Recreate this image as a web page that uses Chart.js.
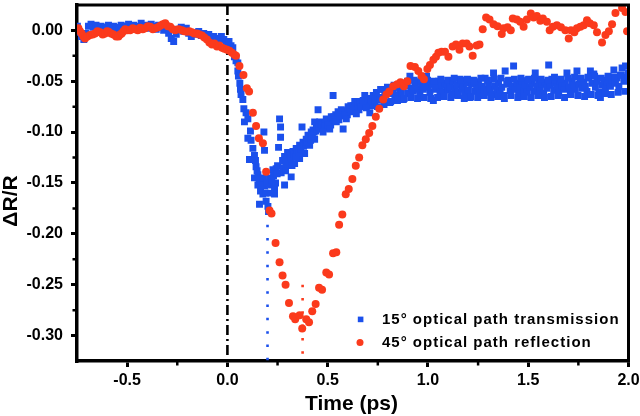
<!DOCTYPE html>
<html><head><meta charset="utf-8">
<script src="https://cdn.jsdelivr.net/npm/chart.js@4/dist/chart.umd.min.js"></script>
<style>html,body{margin:0;padding:0;background:#fff}#wrap{width:640px;height:416px;position:relative}</style>
</head><body><div id="wrap"><canvas id="c" width="640" height="416"></canvas></div>
<script>
const blueLabel = '15° optical path transmission';
const redLabel = '45° optical path reflection';
const xTitle = 'Time (ps)';
const yTitle = 'ΔR/R';
const xTickValues = [-0.5, 0, 0.5, 1.0, 1.5, 2.0];
const yTickValues = [0, -0.05, -0.10, -0.15, -0.20, -0.25, -0.30];
const xRange = [-0.75, 2.0];
const yRange = [-0.325, 0.025];

// blue squares: [time, dR/R]
const bluePre = [[-0.748,0.004],[-0.740,-0.002],[-0.728,-0.006],[-0.716,-0.009],[-0.705,-0.003],[-0.693,0.004],[-0.680,0.006],[-0.668,0.003],[-0.655,0.005],[-0.643,0.002],[-0.630,0.004],[-0.618,0.001],[-0.605,0.003],[-0.593,0.005],[-0.580,0.002],[-0.568,0.004],[-0.555,0.000],[-0.543,0.003],[-0.530,0.005],[-0.518,0.002],[-0.505,0.004],[-0.493,0.006],[-0.480,0.003],[-0.468,0.005],[-0.455,0.002],[-0.443,0.004],[-0.430,0.007],[-0.418,0.003],[-0.405,0.005],[-0.393,0.002],[-0.380,0.006],[-0.368,0.004],[-0.355,0.001],[-0.343,0.005],[-0.330,0.003],[-0.318,0.000],[-0.305,0.004],[-0.293,-0.003],[-0.280,-0.008],[-0.268,-0.011],[-0.255,-0.004],[-0.243,0.001],[-0.230,0.003],[-0.218,-0.001],[-0.205,0.002],[-0.193,-0.003],[-0.180,-0.006],[-0.168,-0.002],[-0.155,-0.004],[-0.143,-0.001],[-0.130,-0.005],[-0.118,-0.003],[-0.105,-0.007],[-0.093,-0.004],[-0.080,-0.009],[-0.068,-0.006],[-0.055,-0.010],[-0.043,-0.008],[-0.030,-0.006],[-0.018,-0.009],[-0.005,-0.012],[0.008,-0.011],[0.018,-0.015],[0.027,-0.017]];
const blueDip = [[0.035,-0.026],[0.043,-0.030],[0.052,-0.032],[0.052,-0.040],[0.055,-0.045],[0.062,-0.052],[0.065,-0.058],[0.068,-0.063],[0.077,-0.068],[0.082,-0.077],[0.085,-0.090],[0.093,-0.081],[0.102,-0.087],[0.102,-0.106],[0.110,-0.127],[0.115,-0.099],[0.118,-0.108],[0.127,-0.116],[0.135,-0.123],[0.135,-0.145],[0.143,-0.134],[0.152,-0.142],[0.152,-0.152],[0.160,-0.171],[0.168,-0.149],[0.177,-0.161],[0.182,-0.100],[0.185,-0.118],[0.185,-0.153],[0.193,-0.168],[0.202,-0.173],[0.205,-0.178],[0.210,-0.145],[0.218,-0.152],[0.227,-0.137],[0.235,-0.155],[0.235,-0.161],[0.243,-0.136],[0.250,-0.133],[0.255,-0.115],[0.260,-0.087],[0.265,-0.095],[0.265,-0.105],[0.268,-0.140],[0.275,-0.128],[0.285,-0.152],[0.285,-0.124],[0.293,-0.132],[0.293,-0.126],[0.300,-0.120],[0.310,-0.123],[0.318,-0.144],[0.327,-0.119],[0.335,-0.131],[0.343,-0.116],[0.350,-0.125],[0.360,-0.113],[0.360,-0.126],[0.372,-0.095],[0.377,-0.110],[0.385,-0.121],[0.393,-0.107],[0.402,-0.103],[0.410,-0.113],[0.418,-0.100],[0.427,-0.098],[0.435,-0.090],[0.435,-0.107],[0.444,-0.094],[0.452,-0.078],[0.460,-0.090],[0.468,-0.097]];
const blueDip2 = [[0.140,-0.128],[0.148,-0.138],[0.158,-0.146],[0.165,-0.158],[0.172,-0.152],[0.178,-0.145],[0.190,-0.160],[0.197,-0.150],[0.215,-0.160],[0.222,-0.147],[0.230,-0.143],[0.240,-0.150],[0.248,-0.141],[0.278,-0.135],[0.290,-0.138],[0.305,-0.129],[0.315,-0.125],[0.322,-0.133],[0.332,-0.122],[0.340,-0.124],[0.348,-0.118],[0.355,-0.120],[0.366,-0.117],[0.380,-0.114],[0.390,-0.112],[0.398,-0.110],[0.407,-0.106],[0.415,-0.108],[0.424,-0.104],[0.432,-0.100],[0.440,-0.099],[0.448,-0.097],[0.456,-0.095],[0.465,-0.092],[0.473,-0.093],[0.481,-0.096],[0.490,-0.091],[0.498,-0.089],[0.506,-0.090],[0.515,-0.093],[0.523,-0.088],[0.531,-0.085],[0.540,-0.083],[0.548,-0.086],[0.556,-0.088],[0.565,-0.081],[0.573,-0.084],[0.581,-0.079],[0.590,-0.081],[0.598,-0.083],[0.606,-0.079],[0.615,-0.074],[0.623,-0.078],[0.631,-0.076],[0.640,-0.073],[0.648,-0.076],[0.656,-0.078],[0.665,-0.070],[0.673,-0.073],[0.681,-0.071],[0.690,-0.070],[0.698,-0.072],[0.706,-0.070],[0.715,-0.074],[0.723,-0.071],[0.731,-0.066],[0.740,-0.068]];
const blueRise = [[0.477,-0.100],[0.485,-0.092],[0.493,-0.087],[0.502,-0.093],[0.510,-0.097],[0.518,-0.085],[0.527,-0.064],[0.535,-0.088],[0.543,-0.090],[0.552,-0.080],[0.560,-0.084],[0.568,-0.078],[0.577,-0.097],[0.585,-0.083],[0.593,-0.087],[0.602,-0.075],[0.610,-0.077],[0.618,-0.080],[0.627,-0.074],[0.635,-0.070],[0.643,-0.082],[0.652,-0.072],[0.660,-0.071],[0.668,-0.075],[0.677,-0.069],[0.685,-0.064],[0.693,-0.076],[0.702,-0.067],[0.710,-0.081],[0.718,-0.068],[0.727,-0.064],[0.735,-0.070],[0.743,-0.061],[0.752,-0.066],[0.760,-0.068],[0.768,-0.058],[0.777,-0.066],[0.785,-0.063],[0.793,-0.061],[0.802,-0.057],[0.810,-0.071],[0.818,-0.062],[0.827,-0.060],[0.835,-0.066],[0.843,-0.064],[0.852,-0.056],[0.860,-0.058],[0.868,-0.062],[0.877,-0.068],[0.885,-0.052],[0.893,-0.055],[0.902,-0.062],[0.910,-0.045],[0.918,-0.057],[0.927,-0.060],[0.935,-0.053],[0.943,-0.051],[0.952,-0.058],[0.960,-0.064],[0.968,-0.055],[0.977,-0.058],[0.985,-0.050],[0.993,-0.045],[1.002,-0.056],[1.010,-0.061],[1.018,-0.053],[1.027,-0.069],[1.035,-0.058],[1.043,-0.055],[1.052,-0.050],[1.060,-0.060],[1.068,-0.054],[1.077,-0.061],[1.085,-0.052],[1.093,-0.055],[1.102,-0.059],[1.110,-0.056]];
const blueMid2 = [[0.748,-0.075],[0.764,-0.058],[0.781,-0.073],[0.798,-0.056],[0.814,-0.070],[0.831,-0.054],[0.848,-0.069],[0.864,-0.053],[0.881,-0.067],[0.898,-0.050],[0.914,-0.066],[0.931,-0.049],[0.948,-0.067],[0.964,-0.050],[0.981,-0.066],[0.998,-0.049],[1.014,-0.067],[1.031,-0.050],[1.048,-0.066],[1.064,-0.048],[1.081,-0.065],[1.098,-0.049]];
const blueTail = [[1.118,-0.063],[1.127,-0.050],[1.135,-0.057],[1.143,-0.054],[1.152,-0.061],[1.160,-0.048],[1.168,-0.058],[1.177,-0.055],[1.185,-0.064],[1.193,-0.052],[1.202,-0.059],[1.210,-0.066],[1.218,-0.053],[1.227,-0.049],[1.235,-0.060],[1.243,-0.056],[1.252,-0.051],[1.260,-0.062],[1.268,-0.055],[1.277,-0.058],[1.285,-0.047],[1.293,-0.061],[1.302,-0.054],[1.310,-0.058],[1.318,-0.063],[1.327,-0.042],[1.335,-0.055],[1.343,-0.059],[1.352,-0.052],[1.360,-0.061],[1.368,-0.056],[1.377,-0.064],[1.385,-0.040],[1.393,-0.053],[1.402,-0.049],[1.410,-0.060],[1.418,-0.055],[1.427,-0.035],[1.435,-0.058],[1.443,-0.052],[1.452,-0.062],[1.460,-0.056],[1.468,-0.050],[1.477,-0.059],[1.485,-0.054],[1.493,-0.061],[1.502,-0.048],[1.510,-0.056],[1.518,-0.052],[1.527,-0.060],[1.535,-0.042],[1.543,-0.055],[1.552,-0.049],[1.560,-0.058],[1.568,-0.053],[1.577,-0.062],[1.585,-0.051],[1.593,-0.057],[1.602,-0.034],[1.610,-0.054],[1.618,-0.048],[1.627,-0.059],[1.635,-0.052],[1.643,-0.056],[1.652,-0.061],[1.660,-0.050],[1.668,-0.055],[1.677,-0.058],[1.685,-0.052],[1.693,-0.042],[1.702,-0.056],[1.710,-0.060],[1.718,-0.050],[1.727,-0.054],[1.735,-0.058],[1.743,-0.040],[1.752,-0.053],[1.760,-0.048],[1.768,-0.057],[1.777,-0.051],[1.785,-0.055],[1.793,-0.060],[1.802,-0.047],[1.810,-0.040],[1.818,-0.052],[1.827,-0.043],[1.835,-0.056],[1.843,-0.050],[1.852,-0.061],[1.860,-0.066],[1.868,-0.054],[1.877,-0.049],[1.885,-0.057],[1.893,-0.051],[1.902,-0.046],[1.910,-0.055],[1.918,-0.049],[1.927,-0.039],[1.935,-0.052],[1.943,-0.047],[1.952,-0.055],[1.960,-0.044],[1.968,-0.037],[1.977,-0.050],[1.985,-0.035],[1.993,-0.046],[2.000,-0.042]];
const blueTail2 = [[1.114,-0.066],[1.131,-0.047],[1.148,-0.064],[1.164,-0.049],[1.181,-0.067],[1.197,-0.048],[1.214,-0.065],[1.231,-0.050],[1.248,-0.066],[1.264,-0.047],[1.281,-0.064],[1.297,-0.049],[1.314,-0.066],[1.331,-0.048],[1.348,-0.065],[1.364,-0.047],[1.381,-0.067],[1.397,-0.050],[1.414,-0.064],[1.431,-0.048],[1.448,-0.066],[1.464,-0.047],[1.481,-0.065],[1.497,-0.049],[1.514,-0.066],[1.531,-0.047],[1.548,-0.064],[1.564,-0.048],[1.581,-0.066],[1.598,-0.049],[1.614,-0.065],[1.631,-0.046],[1.648,-0.064],[1.664,-0.048],[1.681,-0.066],[1.698,-0.047],[1.714,-0.063],[1.731,-0.046],[1.748,-0.064],[1.764,-0.047],[1.781,-0.065],[1.798,-0.046],[1.814,-0.063],[1.831,-0.045],[1.848,-0.064],[1.864,-0.047],[1.881,-0.062],[1.898,-0.045],[1.914,-0.063],[1.931,-0.046],[1.948,-0.061],[1.964,-0.044],[1.981,-0.060],[1.997,-0.044]];

// red circles: [time, dR/R]
const redPre = [[-0.743,0.002],[-0.735,-0.001],[-0.727,-0.003],[-0.718,-0.006],[-0.710,-0.008],[-0.698,-0.006],[-0.685,-0.0045],[-0.672,-0.004],[-0.660,-0.003],[-0.648,-0.001],[-0.635,-0.002],[-0.622,-0.004],[-0.610,-0.003],[-0.600,-0.001],[-0.593,-0.0013],[-0.580,-0.003],[-0.568,-0.004],[-0.555,-0.006],[-0.543,-0.006],[-0.535,-0.004],[-0.527,-0.003],[-0.518,-0.001],[-0.510,0.001],[-0.497,0.000],[-0.485,0.000],[-0.472,0.002],[-0.460,0.001],[-0.447,0.000],[-0.435,0.0026],[-0.422,0.001],[-0.410,0.002],[-0.397,0.004],[-0.385,0.0036],[-0.372,0.001],[-0.360,0.002],[-0.347,0.003],[-0.335,0.0045],[-0.322,0.006],[-0.310,0.007],[-0.297,0.004],[-0.285,0.0036],[-0.272,0.001],[-0.260,0.000],[-0.243,0.001],[-0.227,0.000],[-0.215,-0.001],[-0.202,-0.0013],[-0.190,-0.001],[-0.177,-0.002],[-0.165,-0.003],[-0.152,-0.003],[-0.140,-0.004],[-0.127,-0.005],[-0.115,-0.007],[-0.102,-0.009],[-0.090,-0.012],[-0.077,-0.014],[-0.065,-0.013],[-0.052,-0.016],[-0.040,-0.015],[-0.027,-0.017],[-0.015,-0.018],[-0.002,-0.019],[0.010,-0.020],[0.023,-0.022],[0.035,-0.024]];
const redDip = [[0.043,-0.025],[0.060,-0.035],[0.080,-0.044],[0.097,-0.057],[0.108,-0.060],[0.127,-0.081],[0.143,-0.094],[0.157,-0.106],[0.177,-0.111],[0.193,-0.139],[0.210,-0.177],[0.220,-0.180],[0.240,-0.209],[0.260,-0.228],[0.275,-0.241],[0.290,-0.250],[0.307,-0.268],[0.327,-0.281],[0.338,-0.284],[0.360,-0.280],[0.373,-0.293],[0.393,-0.284],[0.407,-0.287],[0.423,-0.276],[0.440,-0.269],[0.457,-0.253],[0.472,-0.255],[0.493,-0.238],[0.507,-0.240],[0.527,-0.219],[0.543,-0.218],[0.557,-0.191],[0.573,-0.181]];
const redRise = [[0.590,-0.161],[0.605,-0.156],[0.623,-0.146],[0.640,-0.133],[0.657,-0.125],[0.673,-0.113],[0.690,-0.107],[0.707,-0.101],[0.723,-0.094],[0.740,-0.085],[0.757,-0.077],[0.777,-0.068],[0.793,-0.063],[0.807,-0.060],[0.827,-0.055],[0.847,-0.053],[0.863,-0.051],[0.880,-0.055],[0.897,-0.050],[0.913,-0.035],[0.935,-0.036],[0.952,-0.040],[0.968,-0.045],[0.980,-0.048],[0.997,-0.038],[1.010,-0.034],[1.027,-0.029],[1.040,-0.026],[1.052,-0.022],[1.068,-0.021],[1.085,-0.021],[1.102,-0.026],[1.123,-0.016],[1.140,-0.014],[1.157,-0.019],[1.173,-0.013],[1.193,-0.013],[1.207,-0.016],[1.223,-0.025],[1.243,-0.015],[1.257,-0.014]];
const redTail = [[1.273,0.001],[1.290,0.0126],[1.307,0.0107],[1.327,0.006],[1.347,0.004],[1.368,-0.0036],[1.377,0.002],[1.397,0.003],[1.413,0.000],[1.423,0.0117],[1.443,0.0107],[1.460,0.0084],[1.477,0.0036],[1.493,0.0107],[1.513,0.0165],[1.527,0.0126],[1.543,0.014],[1.560,0.0094],[1.573,0.0117],[1.593,0.0084],[1.607,0.000],[1.623,0.0036],[1.643,0.005],[1.663,0.003],[1.685,0.000],[1.702,-0.008],[1.713,0.000],[1.730,-0.002],[1.743,0.002],[1.760,0.0036],[1.777,0.005],[1.793,0.010],[1.807,0.007],[1.827,0.005],[1.843,-0.002],[1.868,-0.012],[1.885,-0.0046],[1.902,-0.001],[1.918,0.006],[1.935,0.017],[1.968,0.022],[1.985,0.018],[1.993,-0.001]];

// vertical guides: time position and upper end (dR/R)
const guideX = [0.0, 0.2, 0.375];
const guideTop = [0.025, -0.178, -0.25];

const BLUE = '#1b50ec';
const RED = '#fb3a1c';
const FONT = "'Liberation Sans', Arial, sans-serif";

const toPts = arr => arr.map(p => ({x: p[0], y: p[1]}));
const guide = (i, color, dash, w) => ({
  type: 'line', showLine: true, order: 2,
  data: [{x: guideX[i], y: guideTop[i]}, {x: guideX[i], y: yRange[0]}],
  borderColor: color, borderWidth: w, borderDash: dash, pointRadius: 0, fill: false
});

const decor = {
  id: 'decor',
  afterDraw(chart) {
    const c = chart.ctx, a = chart.chartArea;
    const xs = chart.scales.x, ys = chart.scales.y;
    c.save();
    c.strokeStyle = '#000'; c.lineWidth = 3; c.lineCap = 'butt';
    c.beginPath();
    c.moveTo(a.left - 1.5, a.top); c.lineTo(a.right, a.top);
    c.moveTo(a.right, a.top - 1.5); c.lineTo(a.right, a.bottom + 1.5);
    c.stroke();
    // minor ticks
    c.lineWidth = 2.5;
    c.beginPath();
    for (let i = 0; i < xTickValues.length - 1; i++) {
      const px = xs.getPixelForValue((xTickValues[i] + xTickValues[i + 1]) / 2);
      c.moveTo(px, a.bottom); c.lineTo(px, a.bottom + 4.5);
    }
    for (let i = 0; i < yTickValues.length - 1; i++) {
      const py = ys.getPixelForValue((yTickValues[i] + yTickValues[i + 1]) / 2);
      c.moveTo(a.left, py); c.lineTo(a.left - 4.5, py);
    }
    c.stroke();
    // legend
    c.fillStyle = BLUE;
    c.fillRect(357.8, 316.6, 5.6, 5.6);
    c.fillStyle = RED;
    c.beginPath(); c.arc(360, 342.5, 3.5, 0, Math.PI * 2); c.fill();
    c.fillStyle = '#000';
    c.font = 'bold 15px ' + FONT;
    c.textAlign = 'left'; c.textBaseline = 'alphabetic';
    try { c.letterSpacing = '1px'; } catch (e) {}
    c.fillText(blueLabel, 382, 324);
    c.fillText(redLabel, 382, 346.5);
    try { c.letterSpacing = '0px'; } catch (e) {}
    // axis titles
    c.font = 'bold 21px ' + FONT;
    c.textAlign = 'center';
    c.fillText(xTitle, 351.5, 410);
    c.translate(17, 201);
    c.rotate(-Math.PI / 2);
    c.fillText(yTitle, 0, 0);
    c.restore();
  }
};

new Chart(document.getElementById('c'), {
  type: 'scatter',
  data: {
    datasets: [
      {label: redLabel, data: toPts([...redPre, ...redDip, ...redRise, ...redTail]), pointStyle: 'circle', pointRadius: 4, pointHoverRadius: 4, backgroundColor: RED, borderWidth: 0, order: 0},
      {label: blueLabel, data: toPts([...bluePre, ...blueDip, ...blueDip2, ...blueRise, ...blueMid2, ...blueTail, ...blueTail2]), pointStyle: 'rect', pointRadius: 4.9, pointHoverRadius: 4.9, backgroundColor: BLUE, borderWidth: 0, order: 1},
      guide(0, '#000', [10, 4, 2, 4], 2.6),
      guide(1, BLUE, [2.5, 10.8], 2.6),
      guide(2, RED, [2.5, 10.8], 2.6)
    ]
  },
  options: {
    responsive: false, animation: false, devicePixelRatio: 1,
    layout: {padding: {top: 1.5, right: 11.5, left: 0, bottom: 0}},
    plugins: {legend: {display: false}, tooltip: {enabled: false}},
    scales: {
      x: {
        type: 'linear', min: xRange[0], max: xRange[1],
        afterBuildTicks: s => { s.ticks = xTickValues.map(v => ({value: v})); },
        afterFit: s => { s.height = 55; s.paddingLeft = 0; s.paddingRight = 0; },
        ticks: {callback: v => Number(v).toFixed(1), font: {family: FONT, weight: 'bold', size: 16}, color: '#000', padding: 4, maxRotation: 0, autoSkip: false},
        grid: {drawOnChartArea: false, drawTicks: true, tickLength: 6, tickWidth: 3, tickColor: '#000', color: '#000', lineWidth: 3},
        border: {display: true, color: '#000', width: 3.5}
      },
      y: {
        type: 'linear', min: yRange[0], max: yRange[1],
        afterBuildTicks: s => { s.ticks = yTickValues.map(v => ({value: v})); },
        afterFit: s => { s.width = 77; s.paddingTop = 0; s.paddingBottom = 0; },
        ticks: {callback: v => Number(v).toFixed(2), font: {family: FONT, weight: 'bold', size: 16}, color: '#000', padding: 8, autoSkip: false},
        grid: {drawOnChartArea: false, drawTicks: true, tickLength: 6, tickWidth: 3, tickColor: '#000', color: '#000', lineWidth: 3},
        border: {display: true, color: '#000', width: 3.5}
      }
    }
  },
  plugins: [decor]
});
</script></body></html>
